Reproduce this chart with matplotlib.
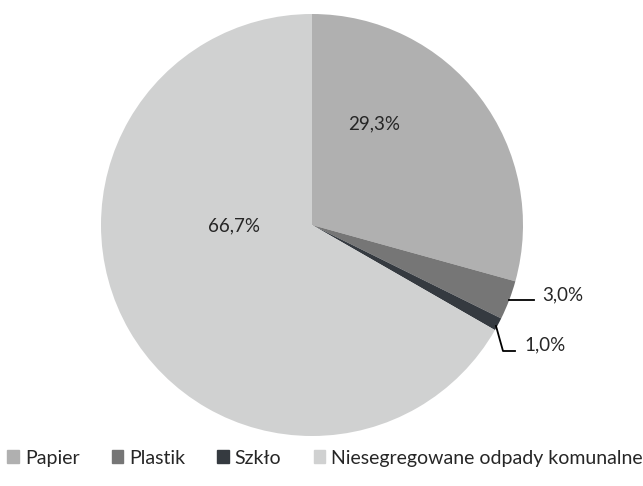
import matplotlib
matplotlib.use("Agg")
import matplotlib.pyplot as plt
from matplotlib.patches import Patch

categories = ["Papier", "Plastik", "Szkło", "Niesegregowane odpady komunalne"]
shares = [29.3, 3.0, 1.0, 66.7]
labels = ["29,3%", "3,0%", "1,0%", "66,7%"]
colors = ["#B0B0B0", "#767676", "#353A40", "#D0D1D1"]

plt.rcParams["font.family"] = ["Lato", "DejaVu Sans"]

W, H = 643, 486
fig = plt.figure(figsize=(W / 100, H / 100), dpi=100)
ax = fig.add_axes([0, 0, 1, 1])

cx, cy, r = 312, H - 225, 211
ax.pie(shares, colors=colors, startangle=90, counterclock=False,
       center=(cx, cy), radius=r, frame=True,
       wedgeprops=dict(linewidth=0))
ax.set_xlim(0, W)
ax.set_ylim(0, H)
ax.axis("off")

txt = "#262626"
fs = 13.5
# etykiety wewnatrz
ax.text(374, H - 124, labels[0], fontsize=fs, ha="center", va="center", color=txt)
ax.text(234, H - 226, labels[3], fontsize=fs, ha="center", va="center", color=txt)

# etykiety z liniami
ax.plot([509, 534], [H - 300, H - 300], color="black", lw=1.3)
ax.text(542, H - 295, labels[1], fontsize=fs, ha="left", va="center", color=txt)
ax.plot([496, 503, 515], [H - 326, H - 351, H - 351], color="black", lw=1.3)
ax.text(524, H - 345, labels[2], fontsize=fs, ha="left", va="center", color=txt)

handles = [Patch(color=c, label=n) for c, n in zip(colors, categories)]
fig.legend(handles=handles, loc="center", bbox_to_anchor=(325 / W, 1 - 458 / H),
           ncol=4, frameon=False, fontsize=14, handlelength=0.6, handleheight=0.6,
           handletextpad=0.3, columnspacing=1.65, labelcolor=txt,
           borderpad=0, borderaxespad=0)

fig.savefig("out.png", dpi=100)
